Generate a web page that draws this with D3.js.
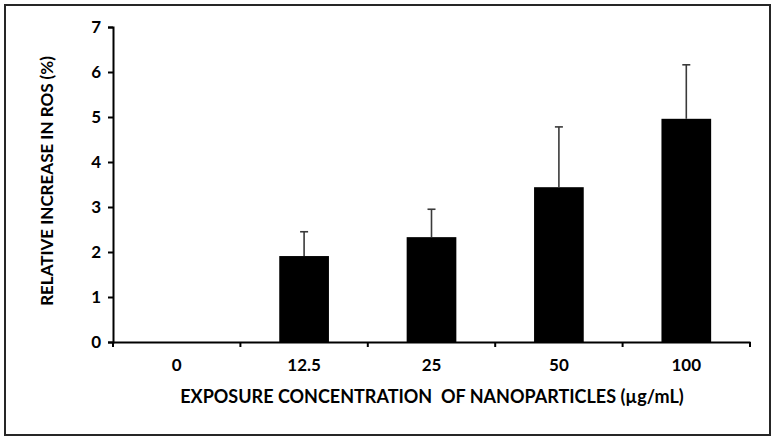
<!DOCTYPE html>
<html>
<head>
<meta charset="utf-8">
<script src="https://cdn.jsdelivr.net/npm/d3@7"></script>
<style>
  body { margin: 0; background: #fff; }
  svg text { font-family: Lato, "Open Sans", sans-serif; font-weight: bold; fill: #000; }
</style>
</head>
<body>
<script>
// data
const categories = ["0", "12.5", "25", "50", "100"];
const means = [0, 1.91, 2.33, 3.44, 4.96];
const errUpper = [0, 2.45, 2.95, 4.78, 6.16];
const yTicks = [0, 1, 2, 3, 4, 5, 6, 7];

const W = 779, H = 442;
const margin = { left: 113, right: 29, top: 27, bottom: 100 };

const svg = d3.select("body").append("svg")
  .attr("width", W)
  .attr("height", H);

// outer frame
svg.append("rect")
  .attr("x", 5).attr("y", 5)
  .attr("width", 765).attr("height", 430)
  .attr("fill", "none")
  .attr("stroke", "#262626")
  .attr("stroke-width", 2);

const x = d3.scaleBand()
  .domain(categories)
  .range([margin.left, W - margin.right])
  .paddingInner(0)
  .paddingOuter(0);

const y = d3.scaleLinear()
  .domain([0, 7])
  .range([H - margin.bottom, margin.top]);

const barW = x.bandwidth() * 0.39;

// bars
svg.append("g")
  .selectAll("rect")
  .data(categories)
  .enter()
  .append("rect")
  .attr("x", (d) => x(d) + x.bandwidth() / 2 - barW / 2)
  .attr("y", (d, i) => y(means[i]))
  .attr("width", barW)
  .attr("height", (d, i) => y(0) - y(means[i]))
  .attr("fill", "#000");

// error bars (upper only)
const eb = svg.append("g")
  .attr("stroke", "#3a3a3a")
  .attr("stroke-width", 1.6);

categories.forEach((c, i) => {
  if (errUpper[i] <= means[i]) return;
  const cx = x(c) + x.bandwidth() / 2;
  eb.append("line")
    .attr("x1", cx).attr("x2", cx)
    .attr("y1", y(means[i])).attr("y2", y(errUpper[i]));
  eb.append("line")
    .attr("x1", cx - 4).attr("x2", cx + 4)
    .attr("y1", y(errUpper[i])).attr("y2", y(errUpper[i]));
});

// y axis
const yAxis = svg.append("g")
  .attr("transform", `translate(${margin.left},0)`)
  .call(d3.axisLeft(y).tickValues(yTicks).tickSize(5).tickPadding(7).tickFormat(d3.format("d")));
yAxis.select(".domain").attr("stroke", "#000").attr("stroke-width", 2);
yAxis.selectAll(".tick line").attr("stroke", "#000").attr("stroke-width", 2);
yAxis.selectAll("text").style("font-size", "17px");

// x axis
const xAxis = svg.append("g")
  .attr("transform", `translate(0,${y(0)})`)
  .call(d3.axisBottom(x).tickSize(0).tickPadding(17));
xAxis.select(".domain").attr("stroke", "#000").attr("stroke-width", 2);
xAxis.selectAll("text").style("font-size", "17px");

// x tick marks at band boundaries
const bounds = categories.map((c) => x(c)).concat([x.range()[1]]);
svg.append("g")
  .selectAll("line")
  .data(bounds)
  .enter()
  .append("line")
  .attr("x1", (d) => d).attr("x2", (d) => d)
  .attr("y1", y(0)).attr("y2", y(0) + 5)
  .attr("stroke", "#000")
  .attr("stroke-width", 2);

// axis titles
svg.append("text")
  .attr("x", 432)
  .attr("y", 403)
  .attr("text-anchor", "middle")
  .style("font-size", "18px")
  .attr("xml:space", "preserve")
  .text("EXPOSURE CONCENTRATION  OF NANOPARTICLES (µg/mL)");

svg.append("text")
  .attr("transform", "translate(53,181) rotate(-90)")
  .attr("text-anchor", "middle")
  .style("font-size", "17px")
  .text("RELATIVE INCREASE IN ROS (%)");
</script>
</body>
</html>
